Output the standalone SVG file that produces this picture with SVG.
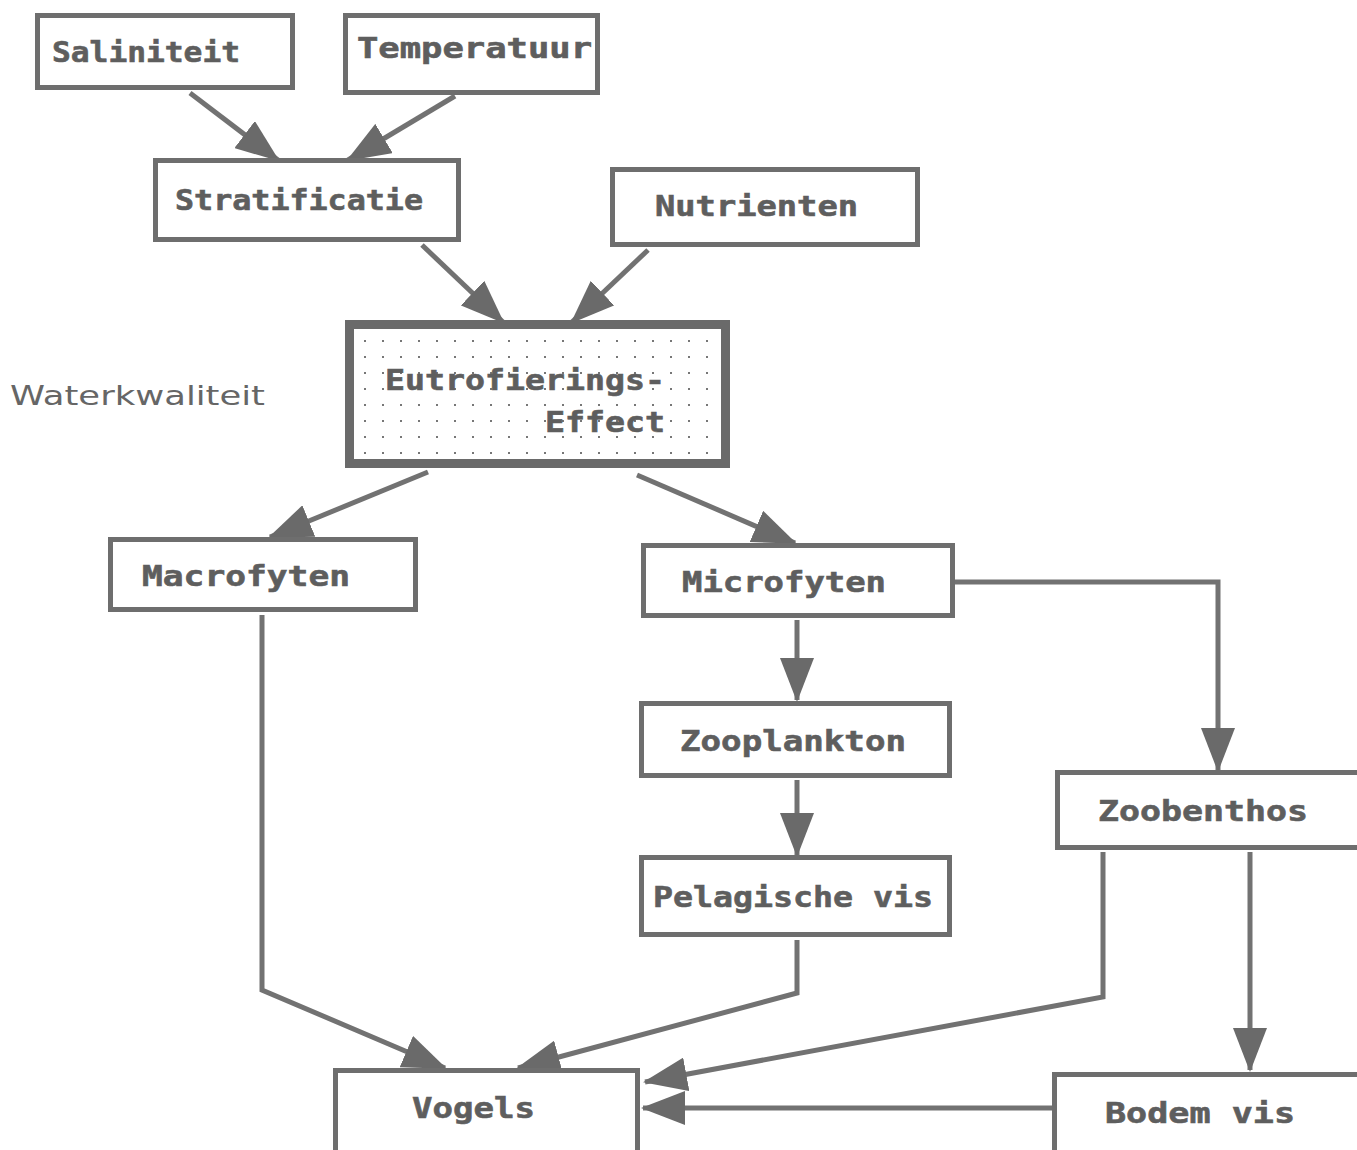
<svg xmlns="http://www.w3.org/2000/svg" width="1357" height="1150" viewBox="0 0 1357 1150">
<style>
.box{fill:#fff;stroke:#6e6e6e;stroke-width:5}
.lbl{font-family:"DejaVu Sans Mono","Liberation Mono",monospace;font-weight:bold;font-size:28px;fill:#5e5e5e;stroke:#5e5e5e;stroke-width:0.6}
.con{fill:none;stroke:#727272;stroke-width:5}
</style>
<defs>
<marker id="ah" viewBox="0 0 44 34" refX="42" refY="17" markerWidth="44" markerHeight="34" markerUnits="userSpaceOnUse" orient="auto">
<path d="M0,0 L44,17 L0,34 Z" fill="#6a6a6a"/>
</marker>
<pattern id="dots" width="18" height="16" patternUnits="userSpaceOnUse">
<rect x="4" y="4" width="2" height="2" fill="#777"/>
</pattern>
</defs>
<rect width="1357" height="1150" fill="#fff"/>
<g id="connectors">
<path class="con" d="M190,93 L278,160" marker-end="url(#ah)"/>
<path class="con" d="M455,96 L348,160" marker-end="url(#ah)"/>
<path class="con" d="M422,245 L503,322" marker-end="url(#ah)"/>
<path class="con" d="M648,250 L572,322" marker-end="url(#ah)"/>
<path class="con" d="M428,472 L270,537" marker-end="url(#ah)"/>
<path class="con" d="M637,475 L795,543" marker-end="url(#ah)"/>
<path class="con" d="M797,620 L797,700" marker-end="url(#ah)"/>
<path class="con" d="M955,582 H1218 V770" marker-end="url(#ah)"/>
<path class="con" d="M797,780 L797,855" marker-end="url(#ah)"/>
<path class="con" d="M262,615 V990 L445,1068" marker-end="url(#ah)"/>
<path class="con" d="M797,940 V993 L518,1068" marker-end="url(#ah)"/>
<path class="con" d="M1103,852 V997 L645,1082" marker-end="url(#ah)"/>
<path class="con" d="M1250,852 V1070" marker-end="url(#ah)"/>
<path class="con" d="M1052,1108 H643" marker-end="url(#ah)"/>
</g>
<g id="saliniteit"><rect class="box" x="37.5" y="15.5" width="255" height="72"/><text class="lbl" x="52" y="62" textLength="188" lengthAdjust="spacingAndGlyphs">Saliniteit</text></g>
<g id="temperatuur"><rect class="box" x="345.5" y="15.5" width="252" height="77"/><text class="lbl" x="357" y="58" textLength="235" lengthAdjust="spacingAndGlyphs">Temperatuur</text></g>
<g id="stratificatie"><rect class="box" x="155.5" y="160.5" width="303" height="79"/><text class="lbl" x="175" y="210" textLength="248" lengthAdjust="spacingAndGlyphs">Stratificatie</text></g>
<g id="nutrienten"><rect class="box" x="612.5" y="169.5" width="305" height="75"/><text class="lbl" x="655" y="216" textLength="203" lengthAdjust="spacingAndGlyphs">Nutrienten</text></g>
<g id="eutrofierings"><rect x="349.5" y="324.5" width="376" height="139" fill="#fff" stroke="#6a6a6a" stroke-width="9"/><rect x="354" y="329" width="367" height="130" fill="url(#dots)"/><text class="lbl" x="385" y="390" textLength="280" lengthAdjust="spacingAndGlyphs">Eutrofierings-</text><text class="lbl" x="545" y="432" textLength="120" lengthAdjust="spacingAndGlyphs">Effect</text></g>
<g id="waterkwaliteit"><text x="10" y="405" textLength="255" lengthAdjust="spacingAndGlyphs" style="font-family:'DejaVu Sans','Liberation Sans',sans-serif;font-size:27px;fill:#666">Waterkwaliteit</text></g>
<g id="macrofyten"><rect class="box" x="110.5" y="539.5" width="305" height="70"/><text class="lbl" x="142" y="586" textLength="208" lengthAdjust="spacingAndGlyphs">Macrofyten</text></g>
<g id="microfyten"><rect class="box" x="643.5" y="545.5" width="309" height="70"/><text class="lbl" x="682" y="592" textLength="204" lengthAdjust="spacingAndGlyphs">Microfyten</text></g>
<g id="zooplankton"><rect class="box" x="641.5" y="703.5" width="308" height="72"/><text class="lbl" x="680" y="751" textLength="226" lengthAdjust="spacingAndGlyphs">Zooplankton</text></g>
<g id="zoobenthos"><rect class="box" x="1057.5" y="772.5" width="305" height="75"/><text class="lbl" x="1098" y="821" textLength="210" lengthAdjust="spacingAndGlyphs">Zoobenthos</text></g>
<g id="pelagische"><rect class="box" x="641.5" y="857.5" width="308" height="77"/><text class="lbl" x="653" y="907" textLength="280" lengthAdjust="spacingAndGlyphs">Pelagische vis</text></g>
<g id="vogels"><rect class="box" x="335.5" y="1070.5" width="302" height="82"/><text class="lbl" x="412" y="1118" textLength="123" lengthAdjust="spacingAndGlyphs">Vogels</text></g>
<g id="bodemvis"><rect class="box" x="1054.5" y="1074.5" width="305" height="80"/><text class="lbl" x="1105" y="1123" textLength="190" lengthAdjust="spacingAndGlyphs">Bodem vis</text></g>
</svg>
